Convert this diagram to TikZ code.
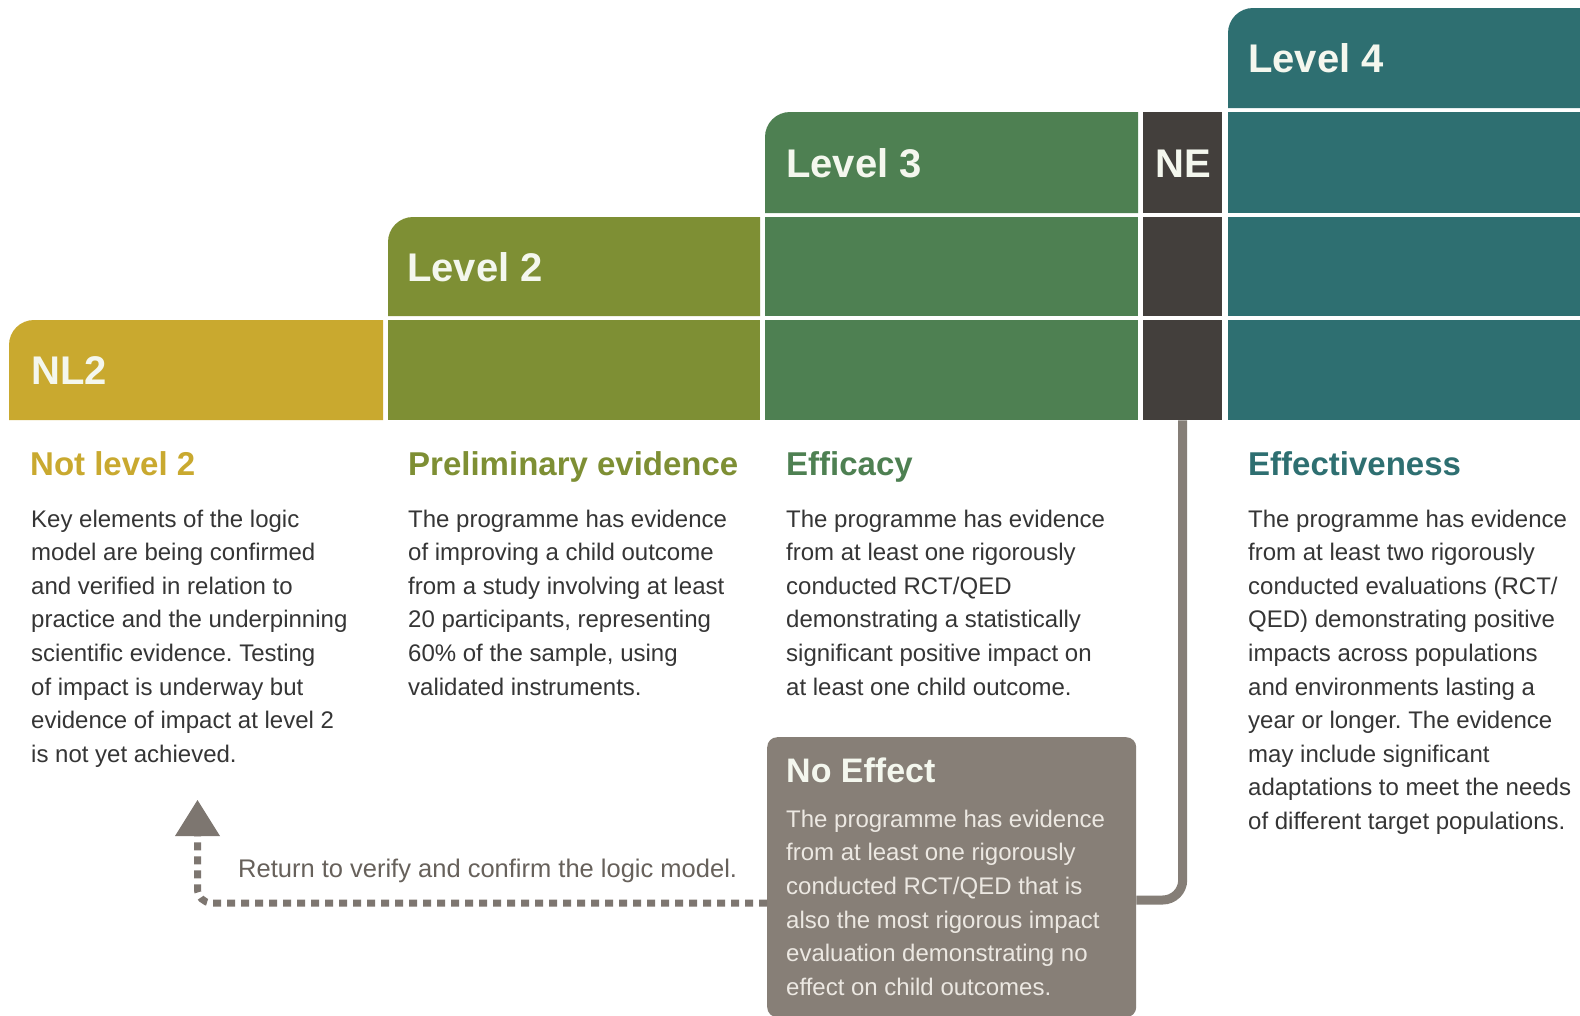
\documentclass[tikz,border=0pt]{standalone}
\usepackage{fontspec}
\setmainfont{Liberation Sans}
\usetikzlibrary{arrows.meta}
\frenchspacing
\definecolor{cGold}{HTML}{C9A92F}
\definecolor{cOlive}{HTML}{7E8F34}
\definecolor{cGreen}{HTML}{4E8052}
\definecolor{cDark}{HTML}{433F3C}
\definecolor{cTeal}{HTML}{2E6F71}
\definecolor{cBox}{HTML}{877F77}
\definecolor{cConn}{HTML}{857E77}
\definecolor{cDot}{HTML}{7D7670}
\definecolor{cBody}{HTML}{353535}
\definecolor{cRet}{HTML}{67615B}
\definecolor{cHead}{HTML}{F4F7EE}
\definecolor{cNoBody}{HTML}{ECE8E2}
\newcommand{\bodyblock}[2]{\parbox[t]{#1}{\raggedright\frenchspacing\fontsize{24}{33.6}\selectfont #2}}
\newcommand{\boxblock}[2]{\parbox[t]{#1}{\raggedright\frenchspacing\fontsize{24}{33.7}\selectfont #2}}
\tikzset{
  cell/.style={rectangle, inner sep=0pt, anchor=north west, draw=none},
  barlabel/.style={inner sep=0pt, anchor=base west, text=cHead, font=\fontsize{40}{48}\selectfont\bfseries},
  heading/.style={inner sep=0pt, anchor=base west, font=\fontsize{33}{40}\selectfont\bfseries},
  body/.style={inner sep=0pt, anchor=base west, text=cBody},
  conn/.style={draw=cConn, line width=9pt, rounded corners=20pt},
  dotline/.style={draw=cDot, line width=7pt, dash pattern=on 8pt off 6pt, rounded corners=14pt},
}
\begin{document}
\begin{tikzpicture}[x=1pt, y=-1pt]
\useasboundingbox (0,0) rectangle (1580,1015);
\fill[white] (0,0) rectangle (1580,1015);

% header shapes with rounded top-left corner
\fill[cGold]  (9,420)   [rounded corners=25pt] -- (9,320)   [sharp corners] -- (383,320) -- (383,420) -- cycle;
\fill[cOlive] (388,316) [rounded corners=25pt] -- (388,217) [sharp corners] -- (760,217) -- (760,316) -- cycle;
\fill[cGreen] (765,213) [rounded corners=25pt] -- (765,112) [sharp corners] -- (1138,112) -- (1138,213) -- cycle;
\fill[cTeal]  (1228,108) [rounded corners=25pt] -- (1228,8) [sharp corners] -- (1580,8) -- (1580,108) -- cycle;

% plain cells
\node[cell, fill=cOlive, minimum width=372pt, minimum height=100pt] (l2D) at (388,320) {};
\node[cell, fill=cGreen, minimum width=373pt, minimum height=99pt] (l3C) at (765,217) {};
\node[cell, fill=cGreen, minimum width=373pt, minimum height=100pt] (l3D) at (765,320) {};
\node[cell, fill=cDark, minimum width=79pt, minimum height=101pt] (neB) at (1143,112) {};
\node[cell, fill=cDark, minimum width=79pt, minimum height=99pt] (neC) at (1143,217) {};
\node[cell, fill=cDark, minimum width=79pt, minimum height=100pt] (neD) at (1143,320) {};
\node[cell, fill=cTeal, minimum width=352pt, minimum height=101pt] (l4B) at (1228,112) {};
\node[cell, fill=cTeal, minimum width=352pt, minimum height=99pt] (l4C) at (1228,217) {};
\node[cell, fill=cTeal, minimum width=352pt, minimum height=100pt] (l4D) at (1228,320) {};

% bar labels
\node[barlabel] (lblNL2) at (31,384.5) {NL2};
\node[barlabel] (lblL2) at (407,281) {Level 2};
\node[barlabel] (lblL3) at (786,177) {Level 3};
\node[barlabel] (lblL4) at (1248,72.5) {Level 4};
\node[barlabel, anchor=base] (lblNE) at (1183,177) {NE};

% column headings
\node[heading, text=cGold]  (hNL2) at (30,475) {Not level 2};
\node[heading, text=cOlive] (hL2)  at (408,475) {Preliminary evidence};
\node[heading, text=cGreen] (hL3)  at (786,475) {Efficacy};
\node[heading, text=cTeal]  (hL4)  at (1248,475) {Effectiveness};

% body texts
\node[body] (tNL2) at (31,527) {\bodyblock{360pt}{Key elements of the logic\\model are being confirmed\\and verified in relation to\\practice and the underpinning\\scientific evidence. Testing\\of impact is underway but\\evidence of impact at level 2\\is not yet achieved.}};
\node[body] (tL2) at (408,527) {\bodyblock{360pt}{The programme has evidence\\of improving a child outcome\\from a study involving at least\\20 participants, representing\\60\% of the sample, using\\validated instruments.}};
\node[body] (tL3) at (786,527) {\bodyblock{360pt}{The programme has evidence\\from at least one rigorously\\conducted RCT/QED\\demonstrating a statistically\\significant positive impact on\\at least one child outcome.}};
\node[body] (tL4) at (1248,527) {\bodyblock{340pt}{The programme has evidence\\from at least two rigorously\\conducted evaluations (RCT/\\QED) demonstrating positive\\impacts across populations\\and environments lasting a\\year or longer. The evidence\\may include significant\\adaptations to meet the needs\\of different target populations.}};

% No Effect box
\node[cell, fill=cBox, rounded corners=10pt, minimum width=369pt, minimum height=280pt] (noeff) at (767,737) {};
\node[heading, text=cHead, font=\fontsize{34}{40}\selectfont\bfseries] (hNoEff) at (786,782) {No Effect};
\node[body, text=cNoBody] (tNoEff) at (786,827) {\boxblock{345pt}{The programme has evidence\\from at least one rigorously\\conducted RCT/QED that is\\also the most rigorous impact\\evaluation demonstrating no\\effect on child outcomes.}};

% connector from NE to No Effect
\coordinate (neIn) at (noeff.east |- 0,900);
\draw[conn] (neD.south) |- (neIn);

% return arrow
\coordinate (retTip) at (197.5,800);
\draw[dotline] (noeff.west |- 0,903) -| (retTip |- 0,836);
\fill[cDot] (175,836) -- (220,836) -- (retTip) -- cycle;
\node[body, text=cRet] (tRet) at (238,877) {\fontsize{25.5}{30}\selectfont Return to verify and confirm the logic model.};
\end{tikzpicture}
\end{document}
